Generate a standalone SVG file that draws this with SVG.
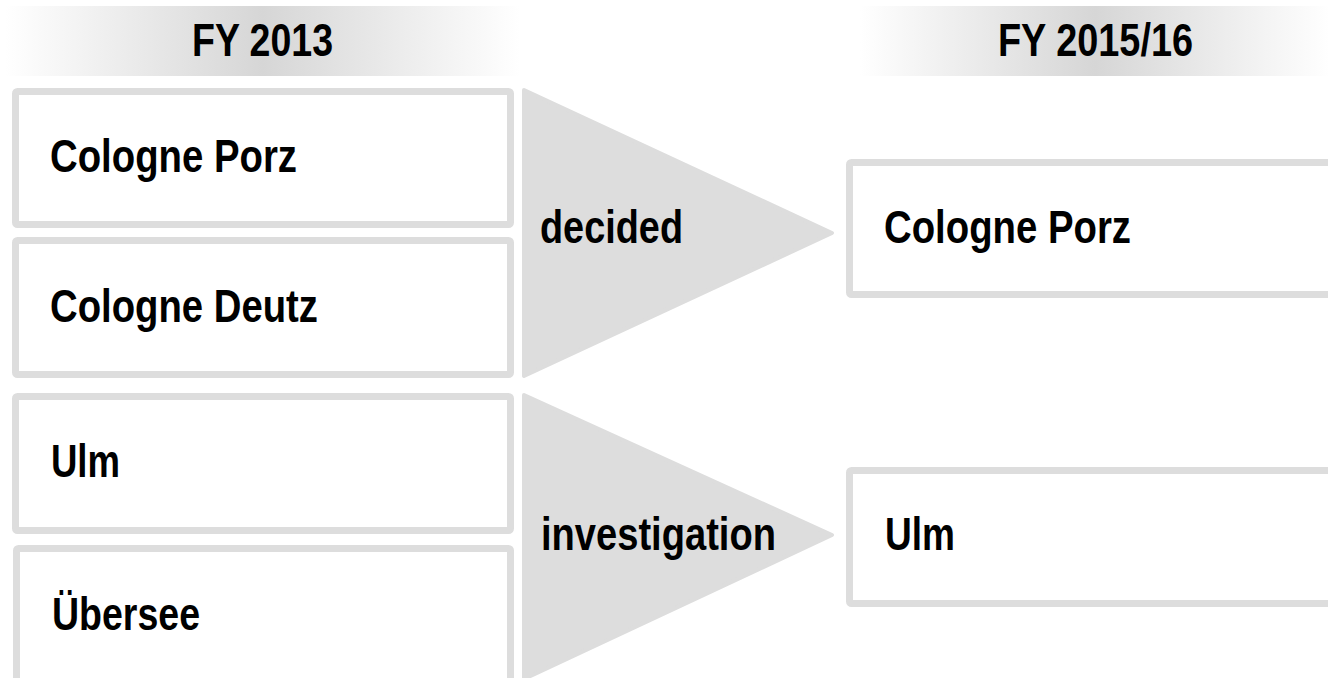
<svg xmlns="http://www.w3.org/2000/svg" width="1328" height="678" viewBox="0 0 1328 678">
<defs>
<linearGradient id="hdr" x1="0" y1="0" x2="1" y2="0">
<stop offset="0" stop-color="#ffffff"/>
<stop offset="0.5" stop-color="#d6d6d6"/>
<stop offset="1" stop-color="#ffffff"/>
</linearGradient>
</defs>
<style>
.t{font-family:"Liberation Sans Narrow","Arial Narrow","Liberation Sans",Arial,sans-serif;font-weight:bold;font-size:47px;fill:#000}
.box{fill:#fff;stroke:#dddddd;stroke-width:7;}
.tri{fill:#dddddd;stroke:#dddddd;stroke-width:4;stroke-linejoin:round}
</style>
<rect width="1328" height="678" fill="#fff"/>
<g id="header-2013">
<rect x="5" y="6" width="515" height="70" fill="url(#hdr)"/>
<text class="t" x="192" y="56" textLength="141" lengthAdjust="spacingAndGlyphs">FY 2013</text>
</g>
<g id="header-2015">
<rect x="860" y="6" width="470" height="70" fill="url(#hdr)"/>
<text class="t" x="998" y="56" textLength="195" lengthAdjust="spacingAndGlyphs">FY 2015/16</text>
</g>
<g id="connectors">
<g id="arrow-decided">
<polygon class="tri" points="524,90 832,233 524,376"/>
<text class="t" x="540" y="243" textLength="143" lengthAdjust="spacingAndGlyphs">decided</text>
</g>
<g id="arrow-investigation">
<polygon class="tri" points="524,395 832,535 524,679"/>
<text class="t" x="541" y="550" textLength="235" lengthAdjust="spacingAndGlyphs">investigation</text>
</g>
</g>
<g id="node-cologne-porz-2013">
<rect class="box" x="15.5" y="91.5" width="495" height="133" rx="2"/>
<text class="t" x="50" y="172" textLength="247" lengthAdjust="spacingAndGlyphs">Cologne Porz</text>
</g>
<g id="node-cologne-deutz-2013">
<rect class="box" x="15.5" y="240.5" width="495" height="134" rx="2"/>
<text class="t" x="50" y="322" textLength="268" lengthAdjust="spacingAndGlyphs">Cologne Deutz</text>
</g>
<g id="node-ulm-2013">
<rect class="box" x="15.5" y="396.5" width="495" height="134" rx="2"/>
<text class="t" x="51" y="477" textLength="69" lengthAdjust="spacingAndGlyphs">Ulm</text>
</g>
<g id="node-uebersee-2013">
<rect class="box" x="16.5" y="548.5" width="494" height="160" rx="2"/>
<text class="t" x="52" y="630" textLength="148" lengthAdjust="spacingAndGlyphs">Übersee</text>
</g>
<g id="node-cologne-porz-2015">
<rect class="box" x="849.5" y="162.5" width="490" height="132" rx="2"/>
<text class="t" x="884" y="243" textLength="247" lengthAdjust="spacingAndGlyphs">Cologne Porz</text>
</g>
<g id="node-ulm-2015">
<rect class="box" x="849.5" y="470.5" width="490" height="133" rx="2"/>
<text class="t" x="885" y="550" textLength="70" lengthAdjust="spacingAndGlyphs">Ulm</text>
</g>
</svg>
